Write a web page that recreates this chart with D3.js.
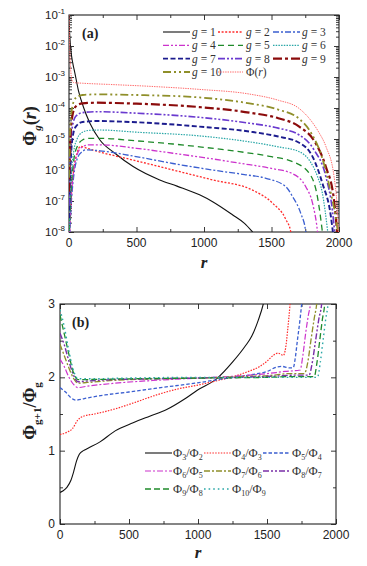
<!DOCTYPE html>
<html><head><meta charset="utf-8">
<script src="https://cdn.jsdelivr.net/npm/d3@7"></script>
<style>html,body{margin:0;padding:0;background:#fff}svg{display:block}</style>
</head><body>
<script>
// ---------- data: panel (a)  [r, Phi_g(r)] ----------
const g1 = [[0,6.0e-2],[5,2.5e-2],[10,1.12e-2],[20,4.47e-3],[30,2.51e-3],[44,1.32e-3],[69,3.8e-4],[106,1.1e-4],[155,3.24e-5],[229,9.3e-6],[340,3.47e-6],[475,1.29e-6],[672,4.79e-7],[800,3.02e-7],[967,1.58e-7],[1064,9.5e-8],[1213,3.55e-8],[1300,1.9e-8],[1360,1e-8],[1400,6.3e-9]];
const g2 = [[0,5e-9],[15,1e-7],[35,1e-6],[60,3.55e-6],[85,5.75e-6],[120,5.25e-6],[229,3.8e-6],[475,2.09e-6],[770,1e-6],[1064,4.79e-7],[1360,2.24e-7],[1508,8.5e-8],[1607,2.51e-8],[1643,1e-8],[1652,5e-9]];
const g3 = [[0,2.24e-9],[15,6.3e-8],[35,6.3e-7],[60,2.24e-6],[100,3.98e-6],[125,4.47e-6],[229,4.17e-6],[475,2.82e-6],[770,1.62e-6],[1064,1e-6],[1300,7.1e-7],[1459,5.4e-7],[1607,2.88e-7],[1656,1.38e-7],[1717,3.98e-8],[1754,1e-8],[1762,5e-9]];
const g4 = [[0,2.5e-9],[15,1e-7],[35,1e-6],[60,3.16e-6],[100,5.6e-6],[150,6.5e-6],[229,6.5e-6],[500,5.0e-6],[770,3.47e-6],[1000,2.51e-6],[1262,1.66e-6],[1500,1.12e-6],[1656,7.6e-7],[1754,2.88e-7],[1804,8.5e-8],[1841,1e-8],[1848,5e-9]];
const g5 = [[0,5e-9],[15,2e-7],[35,2e-6],[60,5.6e-6],[100,9.3e-6],[150,1.05e-5],[229,1.05e-5],[500,8.7e-6],[770,6.9e-6],[967,5.6e-6],[1262,3.9e-6],[1500,2.69e-6],[1656,1.86e-6],[1779,7.9e-7],[1840,1.38e-7],[1877,1e-8],[1885,5e-9]];
const g6 = [[0,1.12e-8],[15,5.0e-7],[35,3.98e-6],[60,1e-5],[100,1.66e-5],[150,1.9e-5],[229,1.95e-5],[500,1.66e-5],[967,1.26e-5],[1336,8.1e-6],[1550,5.6e-6],[1705,3.9e-6],[1779,2.09e-6],[1840,6.3e-7],[1877,1.78e-7],[1915,1.15e-8],[1922,6.3e-9]];
const g7 = [[0,2.8e-8],[10,1e-6],[25,1e-5],[50,2.5e-5],[100,3.55e-5],[200,3.8e-5],[500,3.47e-5],[967,2.51e-5],[1336,1.74e-5],[1550,1.2e-5],[1705,7.6e-6],[1804,2.69e-6],[1877,3.72e-7],[1940,3.16e-8],[1960,6.3e-9]];
const g8 = [[0,7.1e-8],[10,3.16e-6],[25,2.5e-5],[50,5.4e-5],[100,7.1e-5],[200,7.6e-5],[500,6.8e-5],[967,5.0e-5],[1336,3.24e-5],[1550,2.24e-5],[1705,1.35e-5],[1815,4.47e-6],[1902,6.3e-7],[1951,5.0e-8],[1972,6.3e-9]];
const g9 = [[0,2.0e-7],[10,1e-5],[25,5.6e-5],[50,1.12e-4],[100,1.41e-4],[200,1.48e-4],[500,1.38e-4],[967,1.07e-4],[1336,7.1e-5],[1550,4.68e-5],[1705,2.51e-5],[1828,7.2e-6],[1902,1.29e-6],[1963,1.07e-7],[1990,6.3e-9]];
const g10 = [[0,5.6e-7],[10,2.5e-5],[25,1.12e-4],[50,2.1e-4],[100,2.63e-4],[200,2.75e-4],[500,2.63e-4],[967,2.19e-4],[1336,1.41e-4],[1550,8.9e-5],[1705,4.47e-5],[1800,1.41e-5],[1875,2.51e-6],[1940,1.78e-7],[1975,3.16e-8],[1998,6.3e-9]];
const phiTotal = [[0,1e-1],[4,1.58e-2],[8,3.98e-3],[14,1.41e-3],[22,7.94e-4],[35,6.6e-4],[100,6.3e-4],[300,5.75e-4],[600,5.0e-4],[967,3.98e-4],[1336,2.82e-4],[1550,1.78e-4],[1700,1e-4],[1800,3.55e-5],[1850,1.66e-5],[1904,5.6e-6],[1963,6.3e-7],[1985,7.9e-8],[2000,5e-9]];

// ---------- data: panel (b)  [r, Phi_{g+1}/Phi_g] ----------
const ratio32 = [[0,0.43],[20,0.45],[50,0.5],[80,0.6],[100,0.72],[120,0.86],[140,0.95],[170,1.0],[200,1.03],[290,1.12],[400,1.27],[530,1.38],[650,1.47],[773,1.56],[900,1.7],[1000,1.83],[1135,1.98],[1256,2.22],[1340,2.42],[1389,2.56],[1437,2.78],[1473,3.0],[1490,3.15]];
const ratio43 = [[0,1.22],[50,1.25],[90,1.3],[130,1.42],[170,1.47],[250,1.5],[400,1.57],[531,1.65],[700,1.76],[850,1.84],[1014,1.9],[1150,1.96],[1256,2.01],[1350,2.07],[1449,2.15],[1500,2.22],[1546,2.3],[1580,2.33],[1618,2.3],[1635,2.4],[1650,2.65],[1667,3.0],[1675,3.2]];
const ratio54 = [[0,1.86],[40,1.8],[80,1.72],[115,1.69],[200,1.72],[326,1.76],[500,1.8],[688,1.85],[978,1.92],[1217,1.99],[1400,2.04],[1500,2.08],[1570,2.14],[1606,2.15],[1660,2.13],[1690,2.13],[1703,2.24],[1720,2.5],[1740,2.8],[1751,3.0],[1760,3.2]];
const ratio65 = [[0,2.25],[30,2.15],[60,2.02],[100,1.9],[130,1.86],[200,1.88],[400,1.92],[700,1.96],[1000,1.99],[1300,2.02],[1500,2.05],[1630,2.08],[1740,2.1],[1760,2.3],[1780,2.6],[1800,2.85],[1815,3.0],[1825,3.2]];
const ratio76 = [[0,2.45],[30,2.3],[60,2.15],[100,1.98],[130,1.92],[200,1.93],[400,1.96],[700,1.98],[1000,1.99],[1300,2.01],[1550,2.03],[1650,2.05],[1770,2.05],[1795,2.2],[1818,2.5],[1842,2.8],[1860,3.0],[1870,3.2]];
const ratio87 = [[0,2.6],[30,2.45],[60,2.25],[100,2.02],[130,1.94],[200,1.95],[400,1.97],[700,1.98],[1000,1.99],[1300,2.0],[1600,2.02],[1700,2.03],[1805,2.03],[1828,2.2],[1852,2.5],[1876,2.8],[1896,3.0],[1905,3.2]];
const ratio98 = [[0,2.85],[30,2.6],[60,2.35],[100,2.05],[130,1.97],[200,1.97],[500,1.98],[1000,1.99],[1500,2.0],[1700,2.01],[1842,2.01],[1862,2.2],[1882,2.5],[1902,2.8],[1918,3.0],[1925,3.2]];
const ratio109 = [[0,2.92],[30,2.7],[60,2.4],[100,2.08],[130,1.98],[200,1.98],[500,1.99],[1000,2.0],[1500,2.0],[1800,2.0],[1866,2.0],[1886,2.2],[1906,2.5],[1926,2.8],[1942,3.0],[1950,3.2]];

// ---------- ticks ----------
const rTicks = [0, 500, 1000, 1500, 2000];
const rMinor = [250, 750, 1250, 1750];
const logTicks = [1e-8, 1e-7, 1e-6, 1e-5, 1e-4, 1e-3, 1e-2, 1e-1];
const logTickExp = ["-8","-7","-6","-5","-4","-3","-2","-1"];
const ratioTicks = [0, 1, 2, 3];
const ratioMinor = [0.5, 1.5, 2.5];

// ---------- series / legend ----------
const seriesA = [g1, g2, g3, g4, g5, g6, g7, g8, g9, g10, phiTotal];
const labelsA = ["1","2","3","4","5","6","7","8","9","10","Φ"];
const colorsA = ["#111111","#ff2b2b","#3b5fd0","#cc33cc","#1f8a2a","#2aa7a7","#1c1c8e","#6a3acf","#8b0b0b","#8f8f2a","#ff6a6a"];
const dashA = ["none","2,1.6","6,2,2,2","6,2,2,2,2,2","6,4","1.5,1.2","5,2.5","7,2,2,2,2,2","9,3,3,3","8,3,2,3,2,3","1.4,1"];
const widthA = [1.1,1.3,1.3,1.3,1.3,1.2,1.9,1.6,2.2,1.8,1.0];

const seriesB = [ratio32, ratio43, ratio54, ratio65, ratio76, ratio87, ratio98, ratio109];
const labelsB = [["3","2"],["4","3"],["5","4"],["6","5"],["7","6"],["8","7"],["9","8"],["10","9"]];
const colorsB = ["#111111","#ff2b2b","#3b5fd0","#cc33cc","#8f8f2a","#7a2fa8","#1f8a2a","#2aa7a7"];
const dashB = ["none","1.5,1.3","3.5,2","6,2,2,2","6,2,2,2","6,2,2,2,2,2","6,3","1.6,3"];
const widthB = [1.1,1.2,1.3,1.2,1.3,1.4,1.3,1.4];

const W = 367, H = 566;
const svg = d3.select("body").append("svg").attr("width", W).attr("height", H);
const SANS = "'Liberation Sans', Arial, sans-serif";
const SERIF = "'Liberation Serif', 'Times New Roman', serif";

const xA = d3.scaleLinear().domain([0, 2000]).range([69, 339]);
const yA = d3.scaleLog().domain([1e-8, 1e-1]).range([232, 15]);
const xB = d3.scaleLinear().domain([0, 2000]).range([60, 336]);
const yB = d3.scaleLinear().domain([0, 3]).range([524, 304]);

const defs = svg.append("defs");
defs.append("clipPath").attr("id", "clipA").append("rect")
  .attr("x", xA(0)).attr("y", yA(1e-1)).attr("width", xA(2000) - xA(0)).attr("height", yA(1e-8) - yA(1e-1));
defs.append("clipPath").attr("id", "clipB").append("rect")
  .attr("x", xB(0)).attr("y", yB(3)).attr("width", xB(2000) - xB(0)).attr("height", yB(0) - yB(3));

function drawAxes(x, y, major, minor, yMajor, yMinor) {
  const x0 = x.range()[0], x1 = x.range()[1], y0 = y.range()[0], y1 = y.range()[1];
  const g = svg.append("g").attr("class", "axes");
  const addAxis = (axis, tr) => {
    const a = g.append("g").attr("transform", tr).call(axis);
    a.select(".domain").remove();
    a.selectAll("line").attr("stroke", "#222").attr("stroke-width", 0.9);
    return a;
  };
  addAxis(d3.axisBottom(x).tickValues(major).tickSize(-5).tickSizeOuter(0).tickFormat(""), `translate(0,${y0})`);
  addAxis(d3.axisBottom(x).tickValues(minor).tickSize(-3).tickSizeOuter(0).tickFormat(""), `translate(0,${y0})`);
  addAxis(d3.axisTop(x).tickValues(major).tickSize(-5).tickSizeOuter(0).tickFormat(""), `translate(0,${y1})`);
  addAxis(d3.axisTop(x).tickValues(minor).tickSize(-3).tickSizeOuter(0).tickFormat(""), `translate(0,${y1})`);
  addAxis(d3.axisLeft(y).tickValues(yMajor).tickSize(-5).tickSizeOuter(0).tickFormat(""), `translate(${x0},0)`);
  addAxis(d3.axisLeft(y).tickValues(yMinor).tickSize(-3).tickSizeOuter(0).tickFormat(""), `translate(${x0},0)`);
  addAxis(d3.axisRight(y).tickValues(yMajor).tickSize(-5).tickSizeOuter(0).tickFormat(""), `translate(${x1},0)`);
  addAxis(d3.axisRight(y).tickValues(yMinor).tickSize(-3).tickSizeOuter(0).tickFormat(""), `translate(${x1},0)`);
  g.append("g").selectAll("text").data(major).join("text")
    .attr("x", d => x(d)).attr("y", y0 + 15).attr("text-anchor", "middle")
    .attr("font-family", SANS).attr("font-size", 12).attr("fill", "#222").text(d => d);
  g.append("rect").attr("x", x0).attr("y", y1).attr("width", x1 - x0).attr("height", y0 - y1)
    .attr("fill", "none").attr("stroke", "#222").attr("stroke-width", 1.1);
  return g;
}

const logMinor = [];
logTicks.slice(0, -1).forEach(d => { for (let k = 2; k <= 9; k++) logMinor.push(d * k); });

const axA = drawAxes(xA, yA, rTicks, rMinor, logTicks, logMinor);
const lt = axA.append("g").selectAll("text").data(logTicks).join("text")
  .attr("x", 65).attr("y", d => yA(d) + 4).attr("text-anchor", "end")
  .attr("font-family", SANS).attr("font-size", 11.5).attr("fill", "#222");
lt.append("tspan").text("10");
lt.append("tspan").attr("dy", -5).attr("font-size", 8).text((d, i) => logTickExp[i]);

const lineA = d3.line().x(d => xA(d[0])).y(d => yA(d[1])).curve(d3.curveMonotoneX);
const gA = svg.append("g").attr("clip-path", "url(#clipA)");
seriesA.forEach((s, i) => {
  gA.append("path").datum(s).attr("d", lineA).attr("fill", "none")
    .attr("stroke", colorsA[i]).attr("stroke-width", widthA[i])
    .attr("stroke-dasharray", dashA[i] === "none" ? null : dashA[i]);
});

const axB = drawAxes(xB, yB, rTicks, rMinor, ratioTicks, ratioMinor);
axB.append("g").selectAll("text").data(ratioTicks).join("text")
  .attr("x", 55).attr("y", d => yB(d) + 4).attr("text-anchor", "end")
  .attr("font-family", SANS).attr("font-size", 12).attr("fill", "#222").text(d => d);

const lineB = d3.line().x(d => xB(d[0])).y(d => yB(d[1])).curve(d3.curveMonotoneX);
const gB = svg.append("g").attr("clip-path", "url(#clipB)");
seriesB.forEach((s, i) => {
  gB.append("path").datum(s).attr("d", lineB).attr("fill", "none")
    .attr("stroke", colorsB[i]).attr("stroke-width", widthB[i])
    .attr("stroke-dasharray", dashB[i] === "none" ? null : dashB[i]);
});

function t(x, y, size) {
  return svg.append("text").attr("x", x).attr("y", y).attr("font-family", SERIF)
    .attr("font-size", size).attr("fill", "#222");
}
t(82, 38, 14).attr("font-weight", "bold").text("(a)");
t(72, 327, 14).attr("font-weight", "bold").text("(b)");
t(204, 268, 17).attr("font-weight", "bold").attr("font-style", "italic").attr("text-anchor", "middle").text("r");
t(198, 558, 17).attr("font-weight", "bold").attr("font-style", "italic").attr("text-anchor", "middle").text("r");

const yla = svg.append("text").attr("transform", "translate(36,126) rotate(-90)")
  .attr("text-anchor", "middle").attr("font-family", SERIF).attr("font-size", 18)
  .attr("font-weight", "bold").attr("fill", "#222");
yla.append("tspan").text("Φ");
yla.append("tspan").attr("dy", 5).attr("font-size", 11).attr("font-style", "italic").text("g");
yla.append("tspan").attr("dy", -5).text("(");
yla.append("tspan").attr("font-style", "italic").text("r");
yla.append("tspan").text(")");

const ylb = svg.append("text").attr("transform", "translate(36,411) rotate(-90)")
  .attr("text-anchor", "middle").attr("font-family", SERIF).attr("font-size", 18)
  .attr("font-weight", "bold").attr("fill", "#222");
ylb.append("tspan").text("Φ");
ylb.append("tspan").attr("dy", 5).attr("font-size", 11).text("g+1");
ylb.append("tspan").attr("dy", -5).text("/Φ");
ylb.append("tspan").attr("dy", 5).attr("font-size", 11).text("g");

// ---------- legends ----------
const legAx = [[163, 190, 192], [218, 243, 246], [273, 300, 302]];
const legAy = [32, 45.3, 58.6, 72];
seriesA.forEach((s, i) => {
  const c = legAx[i % 3], yy = legAy[Math.floor(i / 3)];
  svg.append("line").attr("x1", c[0]).attr("x2", c[1]).attr("y1", yy).attr("y2", yy)
    .attr("stroke", colorsA[i]).attr("stroke-width", widthA[i])
    .attr("stroke-dasharray", dashA[i] === "none" ? null : dashA[i]);
  const tx = svg.append("text").attr("x", c[2]).attr("y", yy + 4).attr("font-family", SERIF)
    .attr("font-size", 11.5).attr("fill", "#333");
  if (labelsA[i] === "Φ") {
    tx.append("tspan").text("Φ(");
    tx.append("tspan").attr("font-style", "italic").text("r");
    tx.append("tspan").text(")");
  } else {
    tx.append("tspan").attr("font-style", "italic").text("g");
    tx.append("tspan").text(" = " + labelsA[i]);
  }
});

const legBx = [[145, 172, 173], [204, 231, 232], [263, 290, 292]];
const legBy = [453, 471, 489];
seriesB.forEach((s, i) => {
  const c = legBx[i % 3], yy = legBy[Math.floor(i / 3)];
  svg.append("line").attr("x1", c[0]).attr("x2", c[1]).attr("y1", yy).attr("y2", yy)
    .attr("stroke", colorsB[i]).attr("stroke-width", widthB[i])
    .attr("stroke-dasharray", dashB[i] === "none" ? null : dashB[i]);
  const tx = svg.append("text").attr("x", c[2]).attr("y", yy + 4).attr("font-family", SERIF)
    .attr("font-size", 12.5).attr("fill", "#333");
  tx.append("tspan").text("Φ");
  tx.append("tspan").attr("dy", 3).attr("font-size", 8).text(labelsB[i][0]);
  tx.append("tspan").attr("dy", -3).text("/Φ");
  tx.append("tspan").attr("dy", 3).attr("font-size", 8).text(labelsB[i][1]);
});
</script>
</body></html>
